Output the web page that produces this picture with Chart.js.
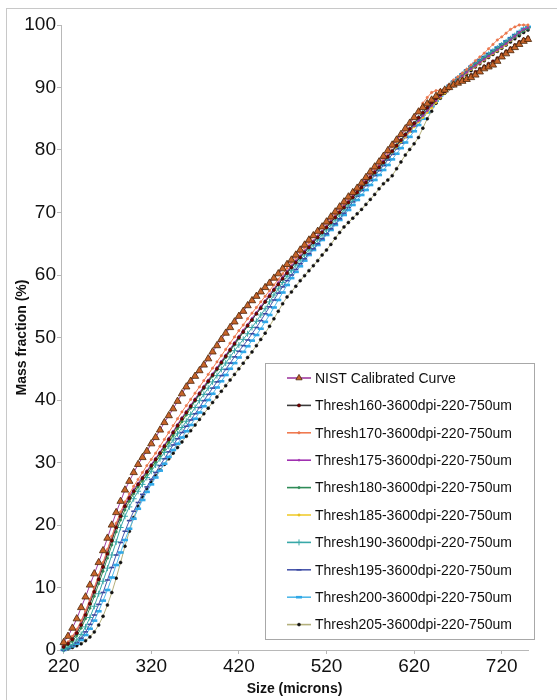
<!DOCTYPE html>
<html>
<head>
<meta charset="utf-8">
<script src="https://cdn.jsdelivr.net/npm/chart.js@4.4.1/dist/chart.umd.min.js"></script>
<style>
  html, body { margin: 0; padding: 0; background: #fff; }
  #wrap { position: relative; width: 557px; height: 700px; overflow: hidden; }
  #frame { position: absolute; left: 6px; top: 8px; width: 600px; height: 750px;
           border-left: 1px solid #c8c8c8; border-top: 1px solid #c8c8c8; }
  #chart { position: absolute; left: 0; top: 0; }
</style>
</head>
<body>
<div id="wrap">
  <div id="frame"></div>
  <canvas id="chart" width="557" height="700"></canvas>
</div>
<script>
// particle size bins (microns)
const sizes = [
  220, 225, 230, 235, 240, 245, 250, 255, 260, 265,
  270, 275, 280, 285, 290, 295, 300, 305, 310, 315,
  320, 325, 330, 335, 340, 345, 350, 355, 360, 365,
  370, 375, 380, 385, 390, 395, 400, 405, 410, 415,
  420, 425, 430, 435, 440, 445, 450, 455, 460, 465,
  470, 475, 480, 485, 490, 495, 500, 505, 510, 515,
  520, 525, 530, 535, 540, 545, 550, 555, 560, 565,
  570, 575, 580, 585, 590, 595, 600, 605, 610, 615,
  620, 625, 630, 635, 640, 645, 650, 655, 660, 665,
  670, 675, 680, 685, 690, 695, 700, 705, 710, 715,
  720, 725, 730, 735, 740, 745, 750
];

const xTicks = [220, 320, 420, 520, 620, 720];
const yTicks = [0, 10, 20, 30, 40, 50, 60, 70, 80, 90, 100];

const seriesNames = [
  'NIST Calibrated Curve',
  'Thresh160-3600dpi-220-750um',
  'Thresh170-3600dpi-220-750um',
  'Thresh175-3600dpi-220-750um',
  'Thresh180-3600dpi-220-750um',
  'Thresh185-3600dpi-220-750um',
  'Thresh190-3600dpi-220-750um',
  'Thresh195-3600dpi-220-750um',
  'Thresh200-3600dpi-220-750um',
  'Thresh205-3600dpi-220-750um'
];

// mass fraction (%)
const nist = [
  1.2, 2.2, 3.5, 5.0, 6.8, 8.5, 10.4, 12.2, 14.0, 15.9,
  17.9, 20.0, 22.0, 23.8, 25.6, 27.0, 28.4, 29.7, 30.8, 31.8,
  33.0, 34.0, 35.2, 36.4, 37.5, 38.6, 39.8, 41.0, 42.1, 43.0,
  43.8, 44.7, 45.6, 46.6, 47.7, 48.7, 49.7, 50.7, 51.6, 52.5,
  53.4, 54.2, 55.1, 55.9, 56.6, 57.3, 58.0, 58.7, 59.5, 60.2,
  61.0, 61.7, 62.4, 63.2, 64.0, 64.8, 65.6, 66.3, 67.0, 67.7,
  68.5, 69.3, 70.1, 70.9, 71.7, 72.5, 73.2, 73.9, 74.7, 75.6,
  76.5, 77.3, 78.1, 79.0, 79.9, 80.8, 81.6, 82.5, 83.4, 84.3,
  85.2, 86.1, 86.8, 87.4, 88.0, 88.6, 89.2, 89.6, 90.0, 90.4,
  90.7, 91.0, 91.3, 91.6, 92.0, 92.5, 93.0, 93.3, 93.6, 94.2,
  94.9, 95.4, 95.9, 96.4, 96.9, 97.4, 97.7
];
const t160 = [
  0.5, 1.0, 1.7, 2.7, 4.0, 5.6, 7.4, 9.3, 11.3, 13.3,
  15.4, 17.5, 19.6, 21.4, 23.0, 24.3, 25.4, 26.5, 27.5, 28.5,
  29.5, 30.5, 31.5, 32.6, 33.7, 34.8, 35.9, 37.0, 38.0, 39.0,
  40.0, 41.0, 42.0, 43.0, 44.0, 45.0, 46.0, 47.0, 48.0, 49.0,
  50.0, 50.9, 51.9, 52.8, 53.8, 54.7, 55.7, 56.6, 57.6, 58.5,
  59.4, 60.3, 61.2, 62.0, 62.8, 63.6, 64.4, 65.2, 66.0, 66.8,
  67.6, 68.4, 69.2, 70.0, 70.8, 71.6, 72.4, 73.2, 74.0, 74.8,
  75.6, 76.4, 77.2, 78.0, 78.9, 79.8, 80.7, 81.6, 82.5, 83.4,
  84.3, 85.2, 86.0, 86.8, 87.6, 88.3, 88.9, 89.4, 89.9, 90.3,
  90.7, 91.1, 91.5, 92.0, 92.5, 93.0, 93.4, 93.8, 94.2, 94.7,
  95.3, 95.8, 96.3, 96.8, 97.3, 97.7, 98.0
];
const t170 = [
  0.7, 1.3, 2.2, 3.3, 4.7, 6.3, 8.1, 10.0, 12.0, 14.0,
  16.1, 18.2, 20.3, 22.1, 23.7, 25.0, 26.2, 27.3, 28.4, 29.5,
  30.5, 31.5, 32.6, 33.7, 34.8, 35.9, 37.0, 38.1, 39.1, 40.1,
  41.1, 42.1, 43.1, 44.1, 45.1, 46.1, 47.1, 48.1, 49.1, 50.1,
  51.1, 52.0, 53.0, 53.9, 54.8, 55.7, 56.6, 57.5, 58.4, 59.3,
  60.2, 61.1, 62.0, 62.8, 63.6, 64.4, 65.2, 66.2, 67.0, 67.6,
  68.3, 69.0, 69.8, 70.6, 71.4, 72.2, 73.0, 73.8, 74.6, 75.4,
  76.2, 77.0, 77.8, 78.7, 79.6, 80.5, 81.4, 82.3, 83.2, 84.2,
  85.2, 86.3, 87.5, 88.4, 89.2, 89.5, 89.6, 89.8, 90.5, 91.2,
  91.7, 92.3, 92.9, 93.6, 94.3, 94.9, 95.5, 96.2, 96.9, 97.6,
  98.1, 98.7, 99.3, 99.7, 100.0, 100.0, 100.0
];
const t175 = [
  0.6, 1.2, 2.0, 3.1, 4.5, 6.1, 7.9, 9.8, 11.8, 13.8,
  15.9, 18.0, 20.0, 21.8, 23.3, 24.6, 25.7, 26.7, 27.7, 28.7,
  29.7, 30.7, 31.7, 32.8, 33.9, 35.0, 36.1, 37.2, 38.2, 39.2,
  40.2, 41.2, 42.2, 43.2, 44.2, 45.2, 46.2, 47.2, 48.2, 49.2,
  50.2, 51.2, 52.1, 53.1, 54.0, 55.0, 55.9, 56.9, 57.8, 58.8,
  59.7, 60.6, 61.5, 62.3, 63.1, 63.9, 64.7, 65.5, 66.3, 67.0,
  67.8, 68.6, 69.4, 70.2, 71.0, 71.8, 72.6, 73.4, 74.2, 75.0,
  75.8, 76.6, 77.5, 78.3, 79.1, 79.9, 80.7, 81.5, 82.3, 83.1,
  83.9, 84.7, 85.5, 86.3, 87.1, 87.9, 88.6, 89.3, 90.0, 90.6,
  91.2, 91.8, 92.4, 93.0, 93.5, 94.0, 94.5, 95.0, 95.5, 96.0,
  96.5, 97.0, 97.6, 98.2, 98.8, 99.3, 99.6
];
const t180 = [
  0.4, 0.8, 1.4, 2.3, 3.5, 5.0, 6.7, 8.6, 10.6, 12.6,
  14.7, 16.8, 18.9, 20.8, 22.4, 23.8, 25.0, 26.1, 27.1, 28.1,
  29.1, 30.1, 31.1, 32.1, 33.2, 34.3, 35.4, 36.5, 37.6, 38.7,
  39.8, 40.8, 41.8, 42.8, 43.8, 44.8, 45.8, 46.8, 47.8, 48.8,
  49.8, 50.8, 51.8, 52.8, 53.8, 54.7, 55.7, 56.6, 57.6, 58.5,
  59.5, 60.4, 61.3, 62.1, 62.9, 63.7, 64.5, 65.3, 66.1, 66.9,
  67.7, 68.5, 69.3, 70.1, 70.9, 71.7, 72.5, 73.3, 74.1, 74.9,
  75.7, 76.5, 77.3, 78.1, 79.0, 79.9, 80.8, 81.6, 82.4, 83.2,
  84.0, 84.8, 85.6, 86.4, 87.2, 88.0, 88.7, 89.4, 90.1, 90.7,
  91.3, 91.9, 92.5, 93.1, 93.6, 94.1, 94.6, 95.1, 95.6, 96.1,
  96.6, 97.1, 97.6, 98.1, 98.6, 99.1, 99.5
];
const t185 = [
  0.5, 1.0, 1.8, 2.8, 4.2, 5.8, 7.6, 9.5, 11.5, 13.5,
  15.6, 17.7, 19.8, 21.5, 23.0, 24.2, 25.2, 26.2, 27.2, 28.2,
  29.2, 30.2, 31.2, 32.3, 33.4, 34.5, 35.6, 36.7, 37.8, 38.9,
  40.0, 41.0, 42.0, 43.0, 44.0, 45.0, 46.0, 47.0, 48.0, 49.0,
  50.0, 51.0, 51.9, 52.9, 53.8, 54.8, 55.7, 56.7, 57.6, 58.6,
  59.5, 60.5, 61.4, 62.2, 63.0, 63.8, 64.6, 65.4, 66.2, 66.9,
  67.6, 68.4, 69.2, 70.0, 70.8, 71.6, 72.4, 73.2, 74.0, 74.8,
  75.6, 76.4, 77.3, 78.1, 78.9, 79.7, 80.5, 81.3, 82.1, 82.9,
  83.7, 84.5, 85.2, 86.0, 86.8, 87.6, 88.4, 89.1, 89.8, 90.5,
  91.1, 91.7, 92.3, 92.9, 93.4, 93.9, 94.4, 94.9, 95.4, 95.9,
  96.4, 96.9, 97.5, 98.1, 98.7, 99.2, 99.6
];
const t190 = [
  0.1, 0.4, 0.9, 1.6, 2.5, 3.7, 5.2, 7.0, 9.0, 11.0,
  13.1, 15.2, 17.3, 19.6, 21.4, 22.9, 24.2, 25.4, 26.5, 27.6,
  28.6, 29.6, 30.6, 31.6, 32.6, 33.6, 34.6, 35.6, 36.6, 37.7,
  38.8, 39.9, 40.9, 41.9, 42.9, 43.9, 44.9, 45.9, 46.9, 47.9,
  48.8, 49.7, 50.6, 51.6, 52.6, 53.6, 54.6, 55.7, 56.8, 57.8,
  58.8, 59.8, 60.7, 61.6, 62.4, 63.2, 64.0, 64.8, 65.6, 66.4,
  67.2, 68.0, 68.8, 69.6, 70.4, 71.2, 72.0, 72.9, 73.8, 74.7,
  75.5, 76.3, 77.1, 77.9, 78.8, 79.7, 80.6, 81.5, 82.4, 83.3,
  84.2, 85.1, 86.0, 86.8, 87.6, 88.3, 89.0, 89.7, 90.3, 90.9,
  91.5, 92.1, 92.7, 93.3, 93.8, 94.3, 94.8, 95.3, 95.8, 96.3,
  96.8, 97.3, 97.8, 98.3, 98.8, 99.3, 99.6
];
const t195 = [
  0.0, 0.3, 0.7, 1.2, 1.9, 2.9, 4.1, 5.6, 7.3, 9.2,
  11.2, 13.2, 15.2, 17.2, 19.0, 20.7, 22.2, 23.6, 24.9, 26.1,
  27.3, 28.4, 29.5, 30.6, 31.7, 32.8, 33.8, 34.8, 35.8, 36.8,
  37.8, 38.8, 39.9, 40.9, 41.9, 42.9, 43.9, 44.9, 45.9, 46.9,
  47.8, 48.7, 49.6, 50.6, 51.6, 52.7, 53.8, 54.9, 56.0, 57.1,
  58.1, 59.1, 60.0, 60.9, 61.8, 62.6, 63.4, 64.2, 65.0, 65.8,
  66.6, 67.4, 68.2, 69.0, 69.9, 70.8, 71.7, 72.6, 73.5, 74.3,
  75.1, 75.9, 76.7, 77.5, 78.4, 79.3, 80.2, 81.1, 82.0, 82.9,
  83.8, 84.7, 85.6, 86.5, 87.4, 88.2, 89.0, 89.7, 90.4, 91.0,
  91.6, 92.2, 92.8, 93.4, 93.9, 94.4, 94.9, 95.4, 95.9, 96.4,
  96.9, 97.4, 97.9, 98.4, 98.9, 99.3, 99.6
];
const t200 = [
  0.0, 0.3, 0.6, 1.0, 1.6, 2.4, 3.4, 4.7, 6.2, 7.9,
  9.6, 11.6, 13.6, 15.6, 17.6, 19.4, 21.0, 22.6, 24.0, 25.3,
  26.5, 27.6, 28.7, 29.8, 30.9, 32.0, 33.0, 34.0, 35.0, 36.0,
  37.0, 38.0, 39.0, 40.0, 41.0, 42.0, 43.0, 44.0, 45.0, 45.9,
  46.8, 47.7, 48.6, 49.5, 50.4, 51.4, 52.5, 53.6, 54.8, 56.0,
  57.2, 58.4, 59.5, 60.5, 61.4, 62.3, 63.2, 64.0, 64.8, 65.6,
  66.4, 67.2, 68.0, 68.8, 69.6, 70.4, 71.2, 72.0, 72.8, 73.6,
  74.4, 75.2, 76.0, 76.8, 77.6, 78.5, 79.4, 80.3, 81.2, 82.1,
  83.0, 84.0, 85.0, 86.0, 87.0, 87.9, 88.7, 89.5, 90.2, 90.9,
  91.5, 92.1, 92.7, 93.3, 93.9, 94.4, 94.9, 95.4, 95.9, 96.4,
  96.9, 97.4, 97.9, 98.4, 98.9, 99.4, 99.7
];
const t205 = [
  0.0, 0.2, 0.4, 0.7, 1.0, 1.5, 2.1, 2.9, 4.0, 5.4,
  7.2, 9.2, 11.5, 14.0, 16.6, 19.0, 21.2, 23.0, 24.5, 25.8,
  26.9, 27.9, 28.8, 29.7, 30.6, 31.5, 32.4, 33.3, 34.2, 35.1,
  36.0, 36.9, 37.8, 38.7, 39.6, 40.5, 41.4, 42.3, 43.2, 44.1,
  45.0, 45.9, 46.8, 47.7, 48.7, 49.7, 50.7, 51.8, 53.0, 54.2,
  55.4, 56.5, 57.3, 58.2, 59.1, 59.9, 60.7, 61.5, 62.3, 63.2,
  64.0, 64.9, 65.9, 66.8, 67.7, 68.4, 69.1, 69.8, 70.5, 71.3,
  72.1, 72.9, 73.8, 74.6, 75.2, 75.9, 77.0, 78.1, 79.2, 80.1,
  81.0, 82.0, 83.5, 85.0, 86.2, 87.5, 88.3, 89.1, 89.8, 90.5,
  91.0, 91.5, 92.1, 92.7, 93.3, 93.8, 94.3, 94.8, 95.3, 95.8,
  96.3, 96.8, 97.3, 97.8, 98.3, 98.8, 99.2
];

const seriesValues = [nist, t160, t170, t175, t180, t185, t190, t195, t200, t205];

const styles = [
  { line: '#a03ca0', style: 'triangle', r: 4.2, fill: '#c8642a', edge: '#4a2408', bw: 0.8 },
  { line: '#3a3a3a', style: 'circle', r: 1.6, fill: '#7a0000', edge: '#300000', bw: 0.5 },
  { line: '#f07a50', style: 'circle', r: 1.2, fill: '#f07a50', edge: '#e06a40', bw: 0.5 },
  { line: '#a030b0', style: 'circle', r: 1.0, fill: '#a030b0', edge: '#a030b0', bw: 0.5 },
  { line: '#2e8b57', style: 'circle', r: 1.2, fill: '#2e8b57', edge: '#2e8b57', bw: 0.5 },
  { line: '#f0cc30', style: 'circle', r: 1.2, fill: '#e8c020', edge: '#e8c020', bw: 0.5 },
  { line: '#38a8a8', style: 'cross', r: 3.0, fill: '#38a8a8', edge: '#38a8a8', bw: 1 },
  { line: '#4a58ac', style: 'line', r: 2.5, fill: '#4a58ac', edge: '#3a48a0', bw: 1.6 },
  { line: '#50b8e8', style: 'line', r: 3.0, fill: '#40b0e8', edge: '#30a8e8', bw: 2.6 },
  { line: '#b4b07c', style: 'circle', r: 1.5, fill: '#111111', edge: '#111111', bw: 0.5 }
];

const datasets = seriesNames.map((name, k) => ({
  label: name,
  data: sizes.map((s, i) => ({ x: s, y: seriesValues[k][i] })),
  borderColor: styles[k].line,
  backgroundColor: styles[k].fill,
  borderWidth: 1,
  pointStyle: styles[k].style,
  pointRadius: styles[k].r,
  pointBackgroundColor: styles[k].fill,
  pointBorderColor: styles[k].edge,
  pointBorderWidth: styles[k].bw,
  tension: 0,
  fill: false,
  clip: 6
}));

// legend drawn inside the plot, like the original
const boxLegend = {
  id: 'boxLegend',
  afterDraw(chart) {
    const ctx = chart.ctx;
    ctx.save();
    ctx.fillStyle = '#ffffff';
    ctx.fillRect(265.5, 363.5, 269, 276);
    ctx.strokeStyle = '#a8a8a8';
    ctx.lineWidth = 1;
    ctx.strokeRect(265.5, 363.5, 269, 276);
    ctx.font = '14px "Liberation Sans", Arial, sans-serif';
    ctx.textBaseline = 'middle';
    chart.data.datasets.forEach((ds, i) => {
      const y = 378 + i * 27.4;
      ctx.strokeStyle = ds.borderColor;
      ctx.lineWidth = 1.6;
      ctx.beginPath();
      ctx.moveTo(287, y);
      ctx.lineTo(311, y);
      ctx.stroke();
      ctx.fillStyle = ds.pointBackgroundColor;
      ctx.strokeStyle = ds.pointBorderColor;
      ctx.lineWidth = ds.pointBorderWidth;
      Chart.helpers.drawPoint(ctx, {
        pointStyle: ds.pointStyle, radius: Math.min(ds.pointRadius, 3.6), rotation: 0, borderWidth: ds.pointBorderWidth
      }, 299, y);
      ctx.fillStyle = '#111';
      ctx.fillText(ds.label, 315, y + 1);
    });
    ctx.restore();
  }
};

Chart.defaults.font.family = '"Liberation Sans", Arial, sans-serif';
Chart.defaults.color = '#111';

new Chart(document.getElementById('chart'), {
  type: 'line',
  data: { datasets: datasets },
  plugins: [boxLegend],
  options: {
    responsive: false,
    animation: false,
    devicePixelRatio: 1,
    layout: { padding: { left: 0, right: 29, top: 25, bottom: 0 } },
    plugins: {
      legend: { display: false },
      tooltip: { enabled: false }
    },
    scales: {
      x: {
        type: 'linear',
        min: 217,
        max: 750,
        afterBuildTicks: (scale) => { scale.ticks = xTicks.map(v => ({ value: v })); },
        afterFit: (scale) => { scale.height = 50; },
        grid: { drawOnChartArea: false, drawTicks: true, tickLength: 4, color: '#b8b8b8' },
        border: { display: true, color: '#b8b8b8' },
        ticks: { font: { size: 19 }, padding: 1, maxRotation: 0, autoSkip: false, color: '#111' },
        title: { display: true, text: 'Size (microns)', font: { size: 14, weight: 'bold' }, padding: { top: 0, bottom: 2 }, color: '#111' }
      },
      y: {
        min: 0,
        max: 100,
        afterBuildTicks: (scale) => { scale.ticks = yTicks.map(v => ({ value: v })); },
        afterFit: (scale) => { scale.width = 61; },
        grid: { drawOnChartArea: false, drawTicks: true, tickLength: 4, color: '#b8b8b8' },
        border: { display: true, color: '#b8b8b8' },
        ticks: { font: { size: 19 }, padding: 1, color: '#111' },
        title: { display: true, text: 'Mass fraction (%)', font: { size: 14, weight: 'bold' }, padding: { top: 14, bottom: 0 }, color: '#111' }
      }
    }
  }
});
</script>
</body>
</html>
